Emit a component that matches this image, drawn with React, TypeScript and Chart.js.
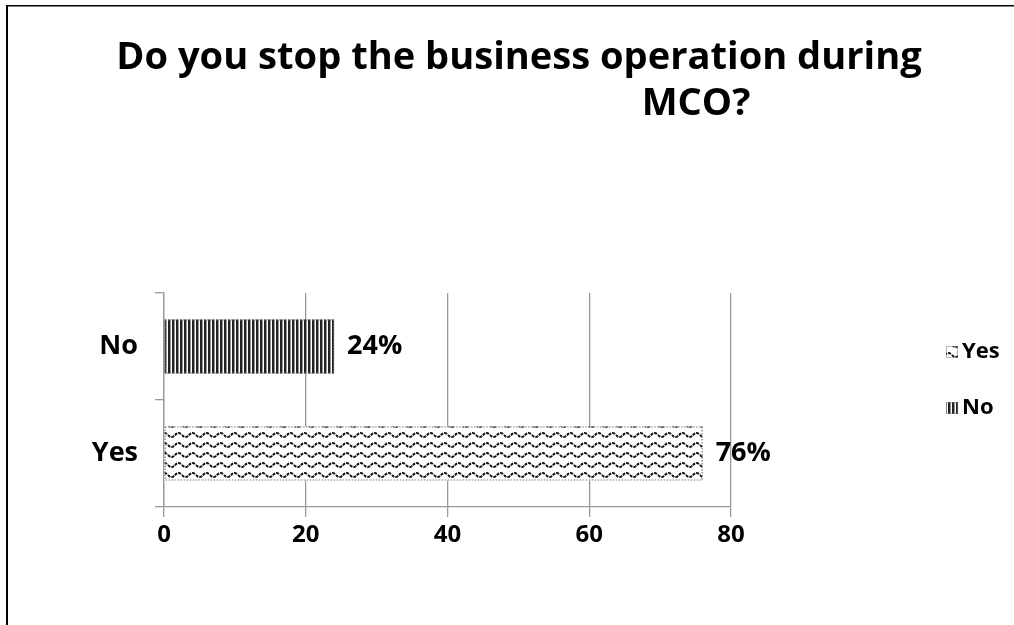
import React, { useEffect, useRef } from "react";
import { Chart, registerables } from "chart.js";

Chart.register(...registerables);

const categories = ["No", "Yes"];
const seriesNames = ["Yes", "No"];
const values = [24, 76];
const valueLabels = ["24%", "76%"];
const xTicks = [0, 20, 40, 60, 80];
const titleLines = ["Do you stop the business operation during", "MCO?"];

const FONT = "'Open Sans', 'DejaVu Sans', sans-serif";

function makeStripe(): CanvasPattern | string {
  const c = document.createElement("canvas");
  c.width = 4;
  c.height = 4;
  const g = c.getContext("2d")!;
  g.fillStyle = "#ffffff";
  g.fillRect(0, 0, 4, 4);
  g.fillStyle = "#222222";
  g.fillRect(0, 0, 2, 4);
  g.fillStyle = "#999999";
  g.fillRect(2, 0, 1, 4);
  const p = g.createPattern(c, "repeat");
  return p || "#555";
}

function makeWave(): CanvasPattern | string {
  const c = document.createElement("canvas");
  c.width = 14;
  c.height = 10;
  const g = c.getContext("2d")!;
  g.fillStyle = "#ffffff";
  g.fillRect(0, 0, 14, 10);
  g.strokeStyle = "#111111";
  g.lineWidth = 2;
  g.setLineDash([3, 1]);
  g.beginPath();
  for (let x = 0; x <= 14; x += 0.5) {
    const y = 5 + 2 * Math.sin((x / 14) * Math.PI * 2);
    if (x === 0) g.moveTo(x, y);
    else g.lineTo(x, y);
  }
  g.stroke();
  const p = g.createPattern(c, "repeat");
  return p || "#ddd";
}

export default function App() {
  const ref = useRef<HTMLCanvasElement | null>(null);

  useEffect(() => {
    document.body.style.margin = "0";
    const stripe = makeStripe();
    const wave = makeWave();
    const fills = [stripe, wave];

    const decor = {
      id: "decor",
      beforeDraw(chart: any) {
        const ctx = chart.ctx;
        ctx.save();
        ctx.fillStyle = "#ffffff";
        ctx.fillRect(0, 0, chart.width, chart.height);
        ctx.fillStyle = "#000000";
        ctx.fillRect(6, 5, 2, chart.height - 5);
        ctx.fillRect(6, 5, chart.width - 6, 1.5);
        ctx.restore();
      },
      afterDraw(chart: any) {
        const ctx = chart.ctx;
        ctx.save();
        // title, sized so the first line spans the reference width
        ctx.font = `bold 30px ${FONT}`;
        const w = ctx.measureText(titleLines[0]).width;
        const size = Math.min(40, (30 * 805) / w);
        ctx.fillStyle = "#000";
        ctx.font = `bold ${size.toFixed(1)}px ${FONT}`;
        ctx.textAlign = "center";
        ctx.textBaseline = "middle";
        ctx.fillText(titleLines[0], 519, 58);
        ctx.fillText(titleLines[1], 696, 104);
        // legend
        ctx.font = `bold 22px ${FONT}`;
        ctx.textAlign = "left";
        const legendFills = [wave, stripe];
        seriesNames.forEach((name, i) => {
          const cy = 352 + i * 56;
          ctx.fillStyle = legendFills[i] as any;
          ctx.fillRect(946, cy - 6, 12, 12);
          ctx.setLineDash([1, 1]);
          ctx.strokeStyle = "#777";
          ctx.lineWidth = 1;
          ctx.strokeRect(946.5, cy - 5.5, 11, 11);
          ctx.setLineDash([]);
          ctx.fillStyle = "#000";
          ctx.fillText(name, 962, cy);
        });
        ctx.restore();
      },
      afterDatasetsDraw(chart: any) {
        const ctx = chart.ctx;
        const meta = chart.getDatasetMeta(0);
        ctx.save();
        meta.data.forEach((el: any, i: number) => {
          const left = Math.min(el.x, el.base);
          const right = Math.max(el.x, el.base);
          const top = el.y - el.height / 2;
          ctx.setLineDash([1.5, 1.5]);
          ctx.strokeStyle = "#777";
          ctx.lineWidth = 1.2;
          ctx.strokeRect(left + 0.5, top + 0.5, right - left - 1, el.height - 1);
          ctx.setLineDash([]);
          ctx.fillStyle = "#000";
          ctx.font = `bold 27px ${FONT}`;
          ctx.textAlign = "left";
          ctx.textBaseline = "middle";
          ctx.fillText(valueLabels[i], right + 13, el.y);
        });
        ctx.restore();
      },
    };

    const chart = new Chart(ref.current!, {
      type: "bar",
      data: {
        labels: categories,
        datasets: [
          {
            label: "data",
            data: values,
            backgroundColor: fills as any,
            borderWidth: 0,
            categoryPercentage: 1,
            barPercentage: 0.505,
          },
        ],
      },
      options: {
        indexAxis: "y",
        animation: false,
        responsive: true,
        maintainAspectRatio: false,
        layout: { padding: { left: 20, right: 283, top: 293, bottom: 58 } },
        plugins: {
          legend: { display: false },
          title: { display: false },
          tooltip: { enabled: false },
        },
        scales: {
          x: {
            min: 0,
            max: 80,
            afterFit: (s: any) => {
              s.height = 60;
            },
            afterBuildTicks: (s: any) => {
              s.ticks = xTicks.map((v) => ({ value: v }));
            },
            ticks: {
              color: "#000",
              font: { family: FONT, size: 24, weight: "bold" },
              padding: 4,
            },
            grid: { color: "#999", lineWidth: 1.3, tickLength: 10 },
            border: { color: "#999", width: 1.3 },
          },
          y: {
            afterFit: (s: any) => {
              s.width = 144;
            },
            ticks: {
              color: "#000",
              font: { family: FONT, size: 27, weight: "bold" },
              padding: 17,
            },
            grid: {
              drawOnChartArea: false,
              drawTicks: true,
              tickLength: 9,
              color: "#999",
              lineWidth: 1.3,
            },
            border: { color: "#999", width: 1.3 },
          },
        },
      },
      plugins: [decor],
    } as any);
    return () => chart.destroy();
  }, []);

  return (
    <div style={{ position: "absolute", left: 0, top: 0, width: 1014, height: 625 }}>
      <canvas ref={ref} />
    </div>
  );
}
